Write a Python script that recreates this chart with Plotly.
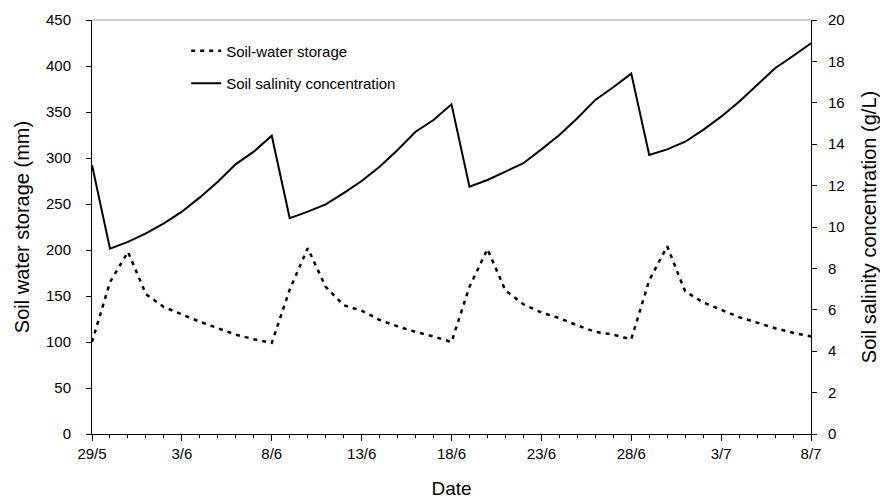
import plotly.graph_objects as go
import pandas as pd

dates = pd.date_range("2010-05-29", "2010-07-08", freq="D")

water_storage = [100, 165, 198, 152, 138, 130, 122, 115, 108, 103, 99,
                 157, 202, 160, 140, 134, 124, 117, 111, 106, 100,
                 160, 201, 156, 141, 132, 126, 118, 111, 108, 103,
                 167, 204, 155, 143, 135, 127, 121, 115, 110, 106]

salinity = [13.0, 8.95, 9.28, 9.69, 10.18, 10.74, 11.43, 12.19, 13.04, 13.64, 14.41,
            10.43, 10.74, 11.09, 11.64, 12.22, 12.91, 13.72, 14.6, 15.17, 15.93,
            11.95, 12.27, 12.67, 13.08, 13.75, 14.44, 15.25, 16.14, 16.75, 17.41,
            13.48, 13.75, 14.12, 14.69, 15.33, 16.05, 16.86, 17.67, 18.26, 18.87]

tick_dates = ["2010-05-29", "2010-06-03", "2010-06-08", "2010-06-13", "2010-06-18",
              "2010-06-23", "2010-06-28", "2010-07-03", "2010-07-08"]
tick_labels = ["29/5", "3/6", "8/6", "13/6", "18/6", "23/6", "28/6", "3/7", "8/7"]

FONT = "Liberation Sans, Arial, sans-serif"

fig = go.Figure()
fig.add_trace(go.Scatter(
    x=dates, y=water_storage, name="Soil-water storage", mode="lines",
    line=dict(color="black", width=2.5, dash="4px,5px"), legendgroup="a",
))
fig.add_trace(go.Scatter(
    x=dates, y=salinity, name="Soil salinity concentration", mode="lines",
    line=dict(color="black", width=2), yaxis="y2", legendgroup="b",
))

fig.update_layout(
    width=880, height=500,
    margin=dict(l=92, r=69, t=20, b=66),
    paper_bgcolor="white", plot_bgcolor="white",
    font=dict(family=FONT, size=15, color="black"),
    showlegend=True,
    legend=dict(x=0.131, y=0.965, xanchor="left", yanchor="top",
                bgcolor="rgba(0,0,0,0)", font=dict(size=15),
                tracegroupgap=10),
    xaxis=dict(
        range=[dates[0], dates[-1]], automargin=False,
        tickvals=tick_dates, ticktext=tick_labels,
        ticks="outside", ticklen=6, tickcolor="black", tickwidth=1,
        showline=True, linecolor="black", linewidth=1,
        showgrid=False, zeroline=False,
        minor=dict(dtick=86400000, ticks="outside", ticklen=3, tickcolor="black", showgrid=False),
        title=dict(text="Date", font=dict(size=19), standoff=20),
        tickfont=dict(size=15),
    ),
    yaxis=dict(
        range=[0, 450], dtick=50, automargin=False,
        ticks="outside", ticklen=5, tickcolor="black",
        showline=True, linecolor="black", linewidth=1,
        showgrid=False, zeroline=False,
        title=dict(text="Soil water storage (mm)", font=dict(size=20), standoff=10),
        tickfont=dict(size=15), ticklabelstandoff=12,
    ),
    yaxis2=dict(
        range=[0, 20], dtick=2, overlaying="y", side="right", automargin=False,
        ticks="outside", ticklen=5, tickcolor="black",
        showline=True, linecolor="black", linewidth=1,
        showgrid=False, zeroline=False,
        title=dict(text="Soil salinity concentration (g/L)", font=dict(size=20), standoff=18),
        tickfont=dict(size=15), ticklabelstandoff=8,
    ),
)

fig.add_shape(type="line", xref="paper", yref="paper", x0=0, x1=1, y0=1, y1=1,
              line=dict(color="#a0a0a0", width=1))

fig.write_html("out.html")
